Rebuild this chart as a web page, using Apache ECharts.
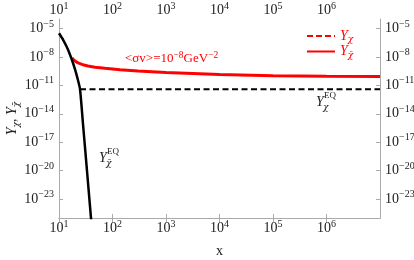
<!DOCTYPE html>
<html><head><meta charset="utf-8">
<script src="https://cdn.jsdelivr.net/npm/echarts@6/dist/echarts.min.js"></script>
<style>html,body{margin:0;padding:0;background:#fff}#c{width:414px;height:260px}</style>
</head><body><div id="c"></div>
<script>
// x values (x = m/T) and abundances
const redX = [17.5, 19.1, 20.8, 22.7, 24.7, 29.3, 34.8, 47.1, 72.4, 138, 300, 1000, 1e4, 1e5, 1e6, 1e7];
const redY = [7.6e-9, 4.5e-9, 3.0e-9, 2.3e-9, 1.86e-9, 1.38e-9, 1.1e-9, 8.3e-10, 6.3e-10, 4.4e-10, 3.2e-10, 2.2e-10, 1.4e-10, 1.05e-10, 8.9e-11, 8.3e-11];
const eqBarX = [10, 12, 14, 16, 18, 20, 22, 24.7, 28, 32, 36, 40, 42];
const eqBarY = [3.1e-6, 6e-7, 1.1e-7, 1.8e-8, 2.9e-9, 4.5e-10, 6.5e-11, 4e-12, 1.05e-15, 1.5e-19, 6.2e-23, 5.4e-26, 2e-27];
const eqX = [24.7, 1e7];
const eqY = [3.8e-12, 3.8e-12];
const xTickExps = [1, 2, 3, 4, 5, 6];
const yTickVals = [1e-23, 1e-20, 1e-17, 1e-14, 1e-11, 1e-8, 1e-5];

const pair = (xs, ys) => xs.map((x, i) => [x, ys[i]]);
const SERIF = 'Liberation Serif';
const DJ = 'DejaVu Serif';
const CHI = '\u03c7', CHIBAR = '\u03c7\u0304';
const sup = n => String(n).replace('-', '\u2212');
const fmt = v => '{b|10}{s|' + sup(Math.round(Math.log10(v))) + '}';
const TXT = '#222';
const RED = '#ff0000';
const rich = {
  b: {fontFamily: SERIF, fontSize: 14, color: TXT},
  s: {fontFamily: SERIF, fontSize: 10, color: TXT, padding: [0, 0, 9, 0]}
};
const axCol = '#aaaaaa';
function xAx(pos, margin) {
  return {
    type: 'log', logBase: 10, min: 10, max: 1e7, position: pos,
    axisLine: {show: true, lineStyle: {color: axCol, width: 1}},
    axisTick: {show: true, inside: true, length: 4, lineStyle: {color: axCol}},
    axisLabel: {formatter: v => xTickExps.includes(Math.round(Math.log10(v))) ? fmt(v) : '',
                rich: rich, margin: margin, showMaxLabel: false},
    splitLine: {show: false}
  };
}
function yAx(pos) {
  return {
    type: 'log', logBase: 10, min: 1e-25, max: 1e-4, position: pos,
    axisLine: {show: true, lineStyle: {color: axCol, width: 1}},
    axisTick: {show: true, inside: true, length: 4, lineStyle: {color: axCol}, customValues: yTickVals},
    axisLabel: {formatter: fmt, rich: rich, margin: 5, customValues: yTickVals},
    splitLine: {show: false}
  };
}
const subRich = col => ({
  i: {fontFamily: SERIF, fontStyle: 'italic', fontSize: 14, color: col},
  d: {fontFamily: DJ, fontStyle: 'italic', fontSize: 9, color: col, padding: [8, 0, 0, 0]}
});
const xa0 = xAx('bottom', 1);
xa0.name = 'x'; xa0.nameLocation = 'middle'; xa0.nameGap = 26; xa0.nameMoveOverlap = false;
xa0.nameTextStyle = {fontFamily: SERIF, fontSize: 14, color: TXT};
const ya0 = yAx('left');
ya0.name = '{i|Y}{d|' + CHI + '}{i|, Y}{d|' + CHIBAR + '}';
ya0.nameLocation = 'middle'; ya0.nameGap = 38; ya0.nameRotate = 90; ya0.nameMoveOverlap = false;
ya0.nameTextStyle = {rich: subRich(TXT)};

function eqLabel(x, y, chi) {
  return [
    {type: 'text', x: x, y: y, style: {text: 'Y', font: 'italic 14px "Liberation Serif"', fill: TXT, verticalAlign: 'middle'}},
    {type: 'text', x: x + 8, y: y - 6, style: {text: 'EQ', font: '9px "Liberation Serif"', fill: TXT, verticalAlign: 'middle'}},
    {type: 'text', x: x + 7, y: y + 6, style: {text: chi, font: 'italic 9px "DejaVu Serif"', fill: TXT, verticalAlign: 'middle'}}
  ];
}

const chart = echarts.init(document.getElementById('c'), null, {renderer: 'canvas'});
chart.setOption({
  animation: false,
  grid: {left: 59, right: 34, top: 19, bottom: 42, containLabel: false, outerBoundsMode: 'none'},
  xAxis: [xa0, xAx('top', -1)],
  yAxis: [ya0, yAx('right')],
  legend: {
    orient: 'vertical', left: 301, top: 24, itemWidth: 28, itemHeight: 10, itemGap: 0,
    data: ['Y' + CHI, 'Y' + CHIBAR],
    itemStyle: {opacity: 0},
    formatter: n => '{i|Y}{d|' + n.slice(1) + '}',
    textStyle: {color: RED, rich: subRich(RED)}
  },
  series: [
    {name: 'Y' + CHI, type: 'line', data: [], symbol: 'none', color: RED,
     lineStyle: {color: RED, width: 2.5, type: [6, 3]}},
    {name: 'Y' + CHIBAR, type: 'line', data: pair(redX, redY), symbol: 'none', color: RED,
     lineStyle: {color: RED, width: 3}},
    {name: 'eq', type: 'line', data: pair(eqX, eqY), symbol: 'none', color: '#000',
     lineStyle: {color: '#000', width: 2, type: [6, 3.5]}},
    {name: 'eqbar', type: 'line', data: pair(eqBarX, eqBarY), symbol: 'none', color: '#000',
     smooth: 0.2, lineStyle: {color: '#000', width: 2.5}}
  ],
  graphic: [
    {type: 'text', x: 125, y: 59, style: {
      text: '{a|<\u03c3v>=10}{s|\u22128}{a|GeV}{s|\u22122}', verticalAlign: 'middle', fill: RED,
      rich: {a: {fontFamily: SERIF, fontSize: 13, fill: RED},
             s: {fontFamily: SERIF, fontSize: 9.5, fill: RED, padding: [0, 0, 8, 0]}}}}
  ].concat(eqLabel(316, 102, CHI), eqLabel(99, 158, CHIBAR))
});
</script></body></html>
